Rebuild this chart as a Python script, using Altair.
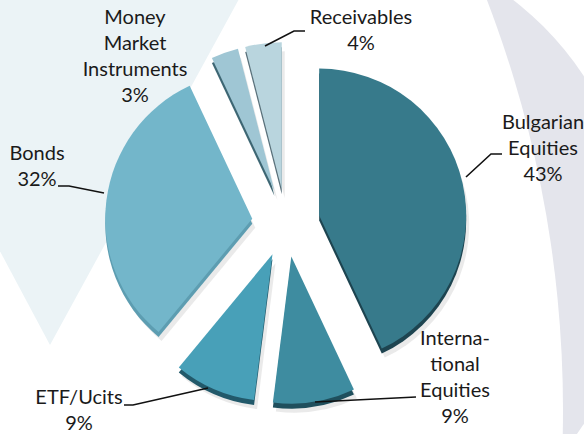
import math
import altair as alt
import pandas as pd

# ---------------- data ----------------
categories = ["Bulgarian Equities", "International Equities", "ETF/Ucits",
              "Bonds", "Money Market Instruments", "Receivables"]
values = [43, 9, 9, 32, 3, 4]
label_text = ["Bulgarian\nEquities", "Interna-\ntional\nEquities", "ETF/Ucits",
              "Bonds", "Money\nMarket\nInstruments", "Receivables"]

# ---------------- styles / layout ----------------
face_colors = ["#377a8b", "#3e8ca0", "#48a0b8", "#73b6ca", "#9fc6d4", "#b9d5de"]
side_colors = ["#1d4450", "#1f4f5d", "#22596a", "#5d9db1", "#3d6673", "#59707a"]

W, H = 584, 434
CX, CY, R, EXPLODE, DEPTH = 286, 223, 147, 34, 5
LINE_H = 26
FONT = "Lato"
FONT_SIZE = 20

label_anchor = [(543, 123), (455, 339), (79, 398), (37, 154), (135, 18), (361, 18)]
leaders = [
    [(466, 177), (491, 154), (502, 154)],
    [(315, 402), (416, 397)],
    [(208, 388), (133, 405), (124, 405)],
    [(104, 193), (69, 186), (58, 186)],
    [],
    [(265, 46), (294, 31), (305, 31)],
]

# ---------------- tables ----------------
pie_df = pd.DataFrame({"category": categories, "value": values,
                       "order": list(range(len(categories)))})

label_rows = []
for i, cat in enumerate(categories):
    lines = label_text[i].split("\n") + [f"{values[i]}%"]
    ax, ay = label_anchor[i]
    for j, ln in enumerate(lines):
        label_rows.append({"category": cat, "text": ln, "x": ax, "y": ay + j * LINE_H})
label_df = pd.DataFrame(label_rows)

lead_rows = []
for i, pts in enumerate(leaders):
    for k, (px, py) in enumerate(pts):
        lead_rows.append({"lid": categories[i], "k": k, "x": px, "y": py})
lead_df = pd.DataFrame(lead_rows)

one = pd.DataFrame({"a": [0]})

# ---------------- background decoration ----------------
bg_gray = alt.Chart(one).mark_arc(outerRadius=316, theta=0, theta2=2 * math.pi,
                                  color="#e4e5ec").encode(x=alt.value(320), y=alt.value(250))
bg_white = alt.Chart(one).mark_arc(outerRadius=1143, theta=0, theta2=2 * math.pi,
                                   color="#ffffff").encode(x=alt.value(-580), y=alt.value(410))
bg_blue = alt.Chart(one).mark_arc(outerRadius=430, theta=2 * math.pi - 0.49,
                                  theta2=2 * math.pi + 0.50,
                                  color="#ebf3f6").encode(x=alt.value(50), y=alt.value(345))

# ---------------- pie ----------------
base = (
    alt.Chart(pie_df)
    .transform_joinaggregate(total="sum(value)")
    .transform_window(cum="sum(value)", sort=[alt.SortField("order")], frame=[None, 0])
    .transform_calculate(
        start="2*PI*(datum.cum-datum.value)/datum.total",
        end="2*PI*datum.cum/datum.total",
    )
    .transform_calculate(
        cx=f"{CX} + {EXPLODE}*sin((datum.start+datum.end)/2)",
        cy=f"{CY} - {EXPLODE}*cos((datum.start+datum.end)/2)",
    )
)
enc = dict(
    x=alt.X("cx:Q", scale=None, axis=None),
    y=alt.Y("cy:Q", scale=None, axis=None),
    theta=alt.Theta("start:Q", scale=None),
    theta2=alt.Theta2("end:Q"),
)
shadow = base.mark_arc(outerRadius=R, xOffset=3, yOffset=9, color="#8c8c8c",
                       opacity=0.18).encode(**enc)
side = base.mark_arc(outerRadius=R, yOffset=DEPTH).encode(
    **enc,
    color=alt.Color("category:N", scale=alt.Scale(domain=categories, range=side_colors),
                    legend=None),
)
face = base.mark_arc(outerRadius=R).encode(
    **enc,
    color=alt.Color("category:N", scale=alt.Scale(domain=categories, range=face_colors),
                    legend=None),
)

lines = alt.Chart(lead_df).mark_line(color="#111111", strokeWidth=1.6).encode(
    x=alt.X("x:Q", scale=None, axis=None),
    y=alt.Y("y:Q", scale=None, axis=None),
    detail="lid:N",
    order="k:Q",
)

texts = alt.Chart(label_df).mark_text(font=FONT, fontSize=FONT_SIZE, color="#1a1a1a",
                                      baseline="middle", align="center").encode(
    x=alt.X("x:Q", scale=None, axis=None),
    y=alt.Y("y:Q", scale=None, axis=None),
    text="text:N",
)

chart = (
    alt.layer(bg_gray, bg_white, bg_blue, shadow, side, face, lines, texts)
    .resolve_scale(color="independent")
    .properties(width=W, height=H, padding=0,
                autosize=alt.AutoSizeParams(type="none"), background="#ffffff")
    .configure_view(stroke=None)
)

chart.save("out.html", embed_options={"renderer": "svg", "actions": False})
